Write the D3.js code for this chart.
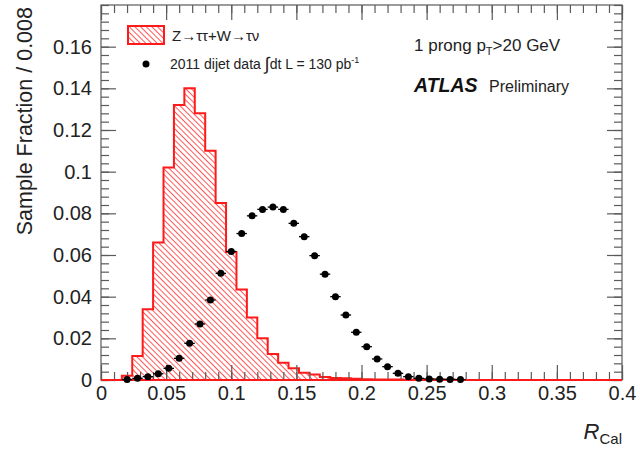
<!DOCTYPE html>
<html>
<head>
<meta charset="utf-8">
<script src="https://cdn.jsdelivr.net/npm/d3@7/dist/d3.min.js"></script>
<style>
  body { margin: 0; background: #fff; }
  svg { display: block; font-family: "Liberation Sans", Arial, sans-serif; }
  .tick text { fill: #222; }
</style>
</head>
<body>
<svg id="chart" width="640" height="451"></svg>
<script>
// bins of width 0.008 over [0, 0.4]
var binWidth = 0.008;
var xTicks = [0, 0.05, 0.1, 0.15, 0.2, 0.25, 0.3, 0.35, 0.4];
var yTicks = [0, 0.02, 0.04, 0.06, 0.08, 0.1, 0.12, 0.14, 0.16];

// Z->tautau + W->taunu (signal), one value per bin
var sigValues = [
  0, 0, 0.002, 0.0115, 0.034, 0.066, 0.102, 0.132, 0.140, 0.128,
  0.110, 0.085, 0.0615, 0.0435, 0.030, 0.020, 0.0125, 0.0083, 0.0056, 0.0035,
  0.0027, 0.0015, 0.001, 0.0008, 0.0006, 0.0004, 0.0003, 0.0002, 0.0002, 0.0001,
  0.0001, 0.0001, 0.0001, 0.0001, 0, 0, 0, 0, 0, 0,
  0, 0, 0, 0, 0, 0, 0, 0, 0, 0
];

// 2011 dijet data, starting at bin 2
var dataFirstBin = 2;
var dataValues = [
  0.0002, 0.0008, 0.0016, 0.003, 0.0056, 0.0104, 0.0176, 0.0269, 0.0384, 0.0512,
  0.0617, 0.0703, 0.0788, 0.0819, 0.0830, 0.0819, 0.0752, 0.0688, 0.0597, 0.0508,
  0.0400, 0.0312, 0.0229, 0.0160, 0.0101, 0.0064, 0.0032, 0.0016, 0.0008, 0.0005,
  0.0004, 0.0003, 0.0002
];

var svg = d3.select('#chart');
// frame edges (don't call these top/left: window.top is read-only)
var fLeft = 101, fRight = 622, fTop = 5, fBottom = 380;

var x = d3.scaleLinear().domain([0, 0.4]).range([fLeft, fRight]);
var y = d3.scaleLinear().domain([0, 0.18]).range([fBottom, fTop]);

// hatch pattern
var defs = svg.append('defs');
var pat = defs.append('pattern')
  .attr('id', 'hatch')
  .attr('patternUnits', 'userSpaceOnUse')
  .attr('width', 4).attr('height', 4)
  .attr('patternTransform', 'rotate(-45)');
pat.append('rect').attr('width', 4).attr('height', 4).attr('fill', '#fff');
pat.append('line')
  .attr('x1', 0).attr('y1', 0).attr('x2', 0).attr('y2', 4)
  .attr('stroke', '#ff3b3b').attr('stroke-width', 1.7);

// signal histogram as a step outline
var path = d3.path();
path.moveTo(x(0), y(0));
sigValues.forEach(function(v, i) {
  path.lineTo(x(i * binWidth), y(v));
  path.lineTo(x((i + 1) * binWidth), y(v));
});
path.lineTo(x(0.4), y(0));
path.closePath();

svg.append('path')
  .attr('d', path.toString())
  .attr('fill', 'url(#hatch)')
  .attr('stroke', '#ff1a1a')
  .attr('stroke-width', 2);

// axes
var fmt = d3.format('~g');
var tickColor = '#5a5a5a';

function styleAxis(g) {
  g.select('.domain').remove();
  g.selectAll('line').attr('stroke', tickColor).attr('stroke-width', 1.2);
}

var xMinor = d3.range(0, 41).map(function(d) { return d / 100; });
var yMinor = d3.range(0, 46).map(function(d) { return d * 0.004; });

svg.append('g').attr('transform', 'translate(0,' + fBottom + ')')
  .call(d3.axisBottom(x).tickValues(xMinor).tickSize(-8).tickFormat(''))
  .call(styleAxis);
svg.append('g').attr('transform', 'translate(0,' + fBottom + ')')
  .call(d3.axisBottom(x).tickValues(xTicks).tickSize(-15).tickPadding(6).tickFormat(fmt))
  .call(styleAxis)
  .selectAll('text').attr('font-size', 20);

svg.append('g').attr('transform', 'translate(0,' + fTop + ')')
  .call(d3.axisTop(x).tickValues(xMinor).tickSize(-8).tickFormat(''))
  .call(styleAxis);
svg.append('g').attr('transform', 'translate(0,' + fTop + ')')
  .call(d3.axisTop(x).tickValues(xTicks).tickSize(-15).tickFormat(''))
  .call(styleAxis);

svg.append('g').attr('transform', 'translate(' + fLeft + ',0)')
  .call(d3.axisLeft(y).tickValues(yMinor).tickSize(-8).tickFormat(''))
  .call(styleAxis);
svg.append('g').attr('transform', 'translate(' + fLeft + ',0)')
  .call(d3.axisLeft(y).tickValues(yTicks).tickSize(-15).tickPadding(9).tickFormat(fmt))
  .call(styleAxis)
  .selectAll('text').attr('font-size', 20);

svg.append('g').attr('transform', 'translate(' + fRight + ',0)')
  .call(d3.axisRight(y).tickValues(yMinor).tickSize(-8).tickFormat(''))
  .call(styleAxis);
svg.append('g').attr('transform', 'translate(' + fRight + ',0)')
  .call(d3.axisRight(y).tickValues(yTicks).tickSize(-15).tickFormat(''))
  .call(styleAxis);

// frame
svg.append('rect')
  .attr('x', fLeft).attr('y', fTop)
  .attr('width', fRight - fLeft).attr('height', fBottom - fTop)
  .attr('fill', 'none').attr('stroke', tickColor).attr('stroke-width', 1.2);

// red baseline drawn over the frame
svg.append('line')
  .attr('x1', x(0)).attr('x2', x(0.4)).attr('y1', y(0)).attr('y2', y(0))
  .attr('stroke', '#ff1a1a').attr('stroke-width', 2);

// data points
var pts = svg.append('g');
dataValues.forEach(function(v, i) {
  var b = dataFirstBin + i;
  var cx = x((b + 0.5) * binWidth);
  pts.append('line')
    .attr('x1', x(b * binWidth)).attr('x2', x((b + 1) * binWidth))
    .attr('y1', y(v)).attr('y2', y(v))
    .attr('stroke', '#000').attr('stroke-width', 1.3);
  pts.append('circle')
    .attr('cx', cx).attr('cy', y(v)).attr('r', 3.5)
    .attr('fill', '#000');
});

// axis titles
svg.append('text')
  .attr('transform', 'translate(32,' + (fTop + 2) + ') rotate(-90)')
  .attr('text-anchor', 'end')
  .attr('font-size', 21.5)
  .attr('fill', '#222')
  .text('Sample Fraction / 0.008');

var xt = svg.append('text')
  .attr('x', fRight).attr('y', 439)
  .attr('text-anchor', 'end')
  .attr('fill', '#222');
xt.append('tspan').attr('font-size', 22).attr('font-style', 'italic').text('R');
xt.append('tspan').attr('font-size', 15).attr('dy', 5).text('Cal');

// legend
svg.append('rect')
  .attr('x', 128).attr('y', 26).attr('width', 36).attr('height', 18)
  .attr('fill', 'url(#hatch)').attr('stroke', '#ff1a1a').attr('stroke-width', 2);
svg.append('text')
  .attr('x', 172).attr('y', 41)
  .attr('font-size', 15).attr('fill', '#222')
  .text('Z\u2192\u03c4\u03c4+W\u2192\u03c4\u03bd');

svg.append('circle').attr('cx', 146).attr('cy', 64).attr('r', 3.5).attr('fill', '#000');
var lt = svg.append('text')
  .attr('x', 170).attr('y', 69)
  .attr('font-size', 14).attr('fill', '#222');
lt.append('tspan').text('2011 dijet data ');
lt.append('tspan').attr('font-size', 18).attr('dy', 1).text('\u222b');
lt.append('tspan').attr('dy', -1).text('dt L = 130 pb');
lt.append('tspan').attr('font-size', 9).attr('dy', -6).text('-1');

// labels
var pl = svg.append('text')
  .attr('x', 414).attr('y', 51)
  .attr('font-size', 17).attr('fill', '#222');
pl.append('tspan').text('1 prong p');
pl.append('tspan').attr('font-size', 11).attr('dy', 4).text('T');
pl.append('tspan').attr('dy', -4).text('>20 GeV');

svg.append('text')
  .attr('x', 414).attr('y', 92)
  .attr('font-size', 19.5).attr('font-weight', 'bold').attr('font-style', 'italic')
  .attr('fill', '#111')
  .text('ATLAS');
svg.append('text')
  .attr('x', 489).attr('y', 92)
  .attr('font-size', 16).attr('fill', '#222')
  .text('Preliminary');
</script>
</body>
</html>
